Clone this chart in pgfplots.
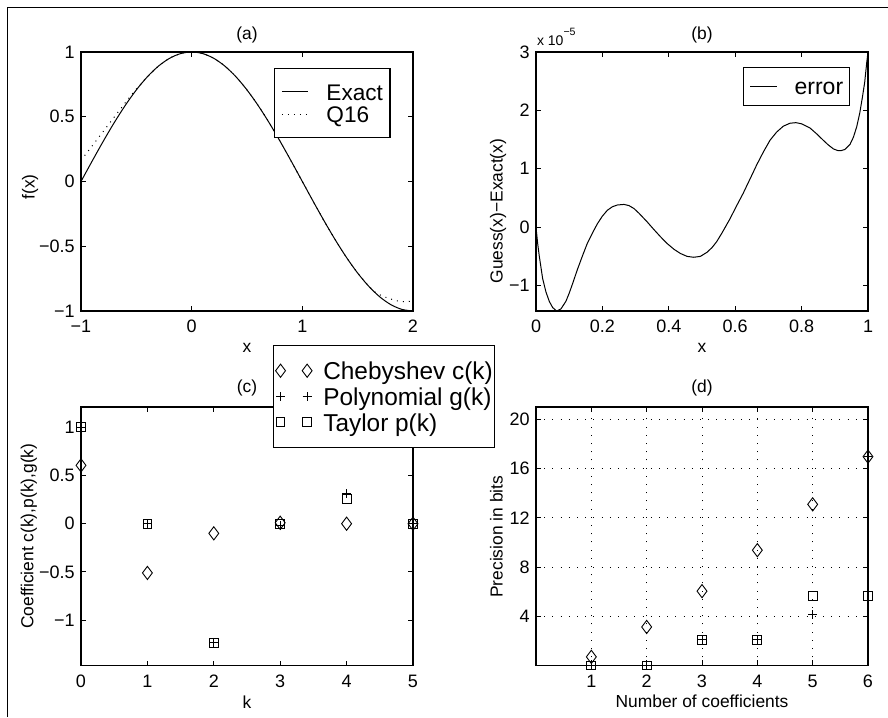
\documentclass[border=0pt]{standalone}
\usepackage{fontspec}
\setmainfont{Liberation Sans}
\usepackage{pgfplots}
\pgfplotsset{compat=1.18}
\tikzset{ttl/.style={anchor=base, inner sep=0pt, font=\fontsize{8.7}{10}\selectfont}}
\pgfplotsset{
  myax/.style={
    scale only axis, width=166pt, clip=false,
    axis line style={line width=0.6pt},
    tick align=inside, tick pos=both,
    major tick length=2.5pt,
    every tick/.style={black, line width=0.5pt},
    ticklabel style={font=\fontsize{9}{10}\selectfont, inner sep=0pt},
    xticklabel style={anchor=base, yshift=-11pt},
    yticklabel style={anchor=east, xshift=-3pt},
    label style={font=\fontsize{8.7}{10}\selectfont, inner sep=0pt},
    xlabel style={at={(axis description cs:0.5,-0.162)}, anchor=base},
    legend cell align=left,
  },
}
\begin{document}
\begin{tikzpicture}
\useasboundingbox (0pt,0pt) rectangle (444pt,358.5pt);
\draw[line width=0.75pt, line join=miter] (3.75pt,0pt) -- (3.75pt,354.75pt) -- (444pt,354.75pt);

% (a)
\begin{axis}[myax, at={(40.5pt,203pt)}, anchor=south west, height=129.5pt,
  xmin=-1, xmax=2, ymin=-1, ymax=1,
  xtick={-1,0,1,2}, xticklabels={−1,0,1,2},
  ytick={-1,-0.5,0,0.5,1}, yticklabels={−1,−0.5,0,0.5,1},
  xlabel={x}, ylabel={f(x)},
  ylabel style={at={(axis description cs:-0.140,0.479)}, anchor=base},
  legend style={at={(axis description cs:0.581,0.938)}, anchor=north west,
    draw=black, line width=0.6pt, fill=white, inner xsep=3.5pt, inner ysep=5.9pt,
    font=\fontsize{11.3}{12}\selectfont,
    nodes={inner sep=0pt, text height=9.8pt, text depth=1.5pt}, row sep=0pt,
    /tikz/every odd column/.append style={column sep=9pt}},
  legend image code/.code={\draw[#1] (0pt,0pt) -- (13pt,0pt);},
]
\addplot[black, line width=0.5pt, smooth] coordinates {
(-1,0) (-0.9,0.1564) (-0.8,0.3090) (-0.7,0.4540) (-0.6,0.5878) (-0.5,0.7071)
(-0.4,0.8090) (-0.3,0.8910) (-0.2,0.9511) (-0.1,0.9877) (0,1) (0.1,0.9877)
(0.2,0.9511) (0.3,0.8910) (0.4,0.8090) (0.5,0.7071) (0.6,0.5878) (0.7,0.4540)
(0.8,0.3090) (0.9,0.1564) (1,0) (1.1,-0.1564) (1.2,-0.3090) (1.3,-0.4540)
(1.4,-0.5878) (1.5,-0.7071) (1.6,-0.8090) (1.7,-0.8910) (1.8,-0.9511)
(1.9,-0.9877) (2,-1)};
\addlegendentry{Exact\hspace{1.8pt}}
\addplot[black, line width=0.5pt, smooth, dash pattern=on 0.5pt off 2.5pt] coordinates {
(-1,0.163) (-0.95,0.219) (-0.9,0.274) (-0.85,0.330) (-0.8,0.385) (-0.75,0.441)
(-0.7,0.497) (-0.65,0.552) (-0.6,0.608) (-0.55,0.662) (-0.5,0.714) (-0.45,0.762)
(-0.4,0.809) (-0.3,0.891) (-0.2,0.951) (-0.1,0.988) (0,1) (0.1,0.988) (0.2,0.951)
(0.3,0.891) (0.4,0.809) (0.5,0.707) (0.6,0.588) (0.7,0.454) (0.8,0.309) (0.9,0.156)
(1,0) (1.1,-0.156) (1.2,-0.309) (1.3,-0.454) (1.4,-0.588) (1.5,-0.707) (1.6,-0.807)
(1.65,-0.850) (1.7,-0.875) (1.75,-0.893) (1.8,-0.908) (1.85,-0.920) (1.9,-0.928)
(1.95,-0.928) (2,-0.920)};
\addlegendentry{Q16}
\node[ttl] at (axis description cs:0.5,1.05) {(a)};
\end{axis}

% (b)
\begin{axis}[myax, at={(268pt,203pt)}, anchor=south west, height=129.5pt,
  xmin=0, xmax=1, ymin=-1.435, ymax=3,
  xtick={0,0.2,0.4,0.6,0.8,1}, xticklabels={0,0.2,0.4,0.6,0.8,1},
  ytick={-1,0,1,2,3}, yticklabels={−1,0,1,2,3},
  xlabel={x}, ylabel={Guess(x)−Exact(x)},
  ylabel style={at={(axis description cs:-0.1006,0.386)}, anchor=base},
  legend style={at={(axis description cs:0.6235,0.942)}, anchor=north west,
    draw=black, line width=0.6pt, fill=white, inner xsep=3pt, inner ysep=3.8pt,
    font=\fontsize{11.5}{12}\selectfont,
    nodes={inner sep=0pt, text height=9.8pt, text depth=1.5pt}, row sep=0pt,
    /tikz/every odd column/.append style={column sep=8.5pt}},
  legend image code/.code={\draw[#1] (0pt,0pt) -- (13.5pt,0pt);},
]
\addplot[black, line width=0.5pt] coordinates {
(0,0) (0.005,-0.28) (0.01,-0.50) (0.02,-0.88) (0.03,-1.11) (0.04,-1.27)
(0.05,-1.375) (0.062,-1.435) (0.075,-1.40) (0.09,-1.27) (0.10,-1.13) (0.11,-0.97)
(0.125,-0.72) (0.14,-0.49) (0.155,-0.27) (0.17,-0.10) (0.185,0.06) (0.20,0.19)
(0.215,0.29) (0.23,0.35) (0.245,0.38) (0.265,0.39) (0.28,0.37) (0.295,0.32)
(0.31,0.24) (0.335,0.09) (0.355,-0.04) (0.376,-0.17) (0.395,-0.28) (0.416,-0.38)
(0.435,-0.45) (0.455,-0.50) (0.475,-0.515) (0.495,-0.50) (0.515,-0.43) (0.53,-0.35)
(0.544,-0.25) (0.56,-0.10) (0.584,0.14) (0.60,0.32) (0.624,0.58) (0.645,0.83)
(0.665,1.07) (0.685,1.29) (0.705,1.49) (0.725,1.63) (0.745,1.73) (0.765,1.78)
(0.783,1.79) (0.80,1.77) (0.825,1.70) (0.845,1.60) (0.865,1.49) (0.88,1.41)
(0.896,1.34) (0.91,1.31) (0.918,1.31) (0.93,1.33) (0.946,1.42) (0.956,1.54)
(0.966,1.72) (0.975,1.95) (0.983,2.22) (0.99,2.48) (0.996,2.81) (1.0,3.0)};
\addlegendentry{error}
\node[ttl] at (axis description cs:0.5,1.05) {(b)};
\node[anchor=base west, inner sep=0pt, font=\fontsize{7}{8}\selectfont]
  at (axis description cs:0.002,1.027) {x 10\raisebox{5pt}{\fontsize{5.3}{6}\selectfont −5}};
\end{axis}

% (c)
\begin{axis}[myax, at={(40.5pt,25.75pt)}, anchor=south west, height=129.25pt,
  xmin=0, xmax=5, ymin=-1.47, ymax=1.21,
  xtick={0,1,2,3,4,5}, xticklabels={0,1,2,3,4,5},
  ytick={-1,-0.5,0,0.5,1}, yticklabels={−1,−0.5,0,0.5,1},
  xlabel={k}, ylabel={Coefficient c(k),p(k),g(k)},
  xlabel style={at={(axis description cs:0.5,-0.167)}},
  ylabel style={at={(axis description cs:-0.1437,0.5)}, anchor=base},
  legend style={at={(axis description cs:0.5783,1.2403)}, anchor=north west,
    draw=black, line width=0.6pt, fill=white, inner xsep=1pt, inner ysep=6.2pt,
    font=\fontsize{12.2}{13}\selectfont,
    nodes={inner sep=0pt, text height=10.95pt, text depth=1.9pt}, row sep=0pt,
    /tikz/every odd column/.append style={column sep=5.6pt}},
  legend image code/.code={\draw[#1] plot coordinates {(0pt,0pt) (13.3pt,0pt)};},
]
\node[ttl] at (axis description cs:0.5,1.058) {(c)};
\addplot[black, only marks, mark=diamond, mark size=3.3pt, line width=0.45pt] coordinates {
(0,0.605) (1,-0.51) (2,-0.10) (3,0.01) (4,0) (5,0)};
\addlegendentry{Chebyshev c(k)}
\addplot[black, only marks, mark=+, mark size=2.2pt, line width=0.45pt] coordinates {
(0,1) (1,0) (2,-1.23) (3,-0.02) (4,0.31) (5,0)};
\addlegendentry{Polynomial g(k)\hspace{2.5pt}}
\addplot[black, only marks, mark=square, mark size=2.2pt, line width=0.45pt] coordinates {
(0,1) (1,0) (2,-1.2337) (3,0) (4,0.2537) (5,0)};
\addlegendentry{Taylor p(k)}
\end{axis}

% (d)
\begin{axis}[myax, at={(268pt,25.75pt)}, anchor=south west, height=129.25pt,
  xmin=0, xmax=6, ymin=0, ymax=21,
  xtick={1,2,3,4,5,6}, xticklabels={1,2,3,4,5,6},
  ytick={4,8,12,16,20}, yticklabels={4,8,12,16,20},
  grid=major, grid style={black, line width=0.5pt, dash pattern=on 0.5pt off 3.6pt},
  xlabel={Number of coefficients}, ylabel={Precision in bits},
  xlabel style={at={(axis description cs:0.5,-0.162)}},
  ylabel style={at={(axis description cs:-0.1006,0.498)}, anchor=base},
]
\addplot[black, only marks, mark=diamond, mark size=3.3pt, line width=0.45pt] coordinates {
(1,0.7) (2,3.13) (3,6.04) (4,9.37) (5,13.09) (6,16.97)};
\addplot[black, only marks, mark=+, mark size=2.2pt, line width=0.45pt] coordinates {
(1,0) (2,0) (3,2.1) (4,2.1) (5,4.14) (6,16.97)};
\addplot[black, only marks, mark=square, mark size=2.2pt, line width=0.45pt] coordinates {
(1,0) (2,0) (3,2.1) (4,2.1) (5,5.63) (6,5.63)};
\node[ttl] at (axis description cs:0.5,1.058) {(d)};
\end{axis}
\end{tikzpicture}
\end{document}
